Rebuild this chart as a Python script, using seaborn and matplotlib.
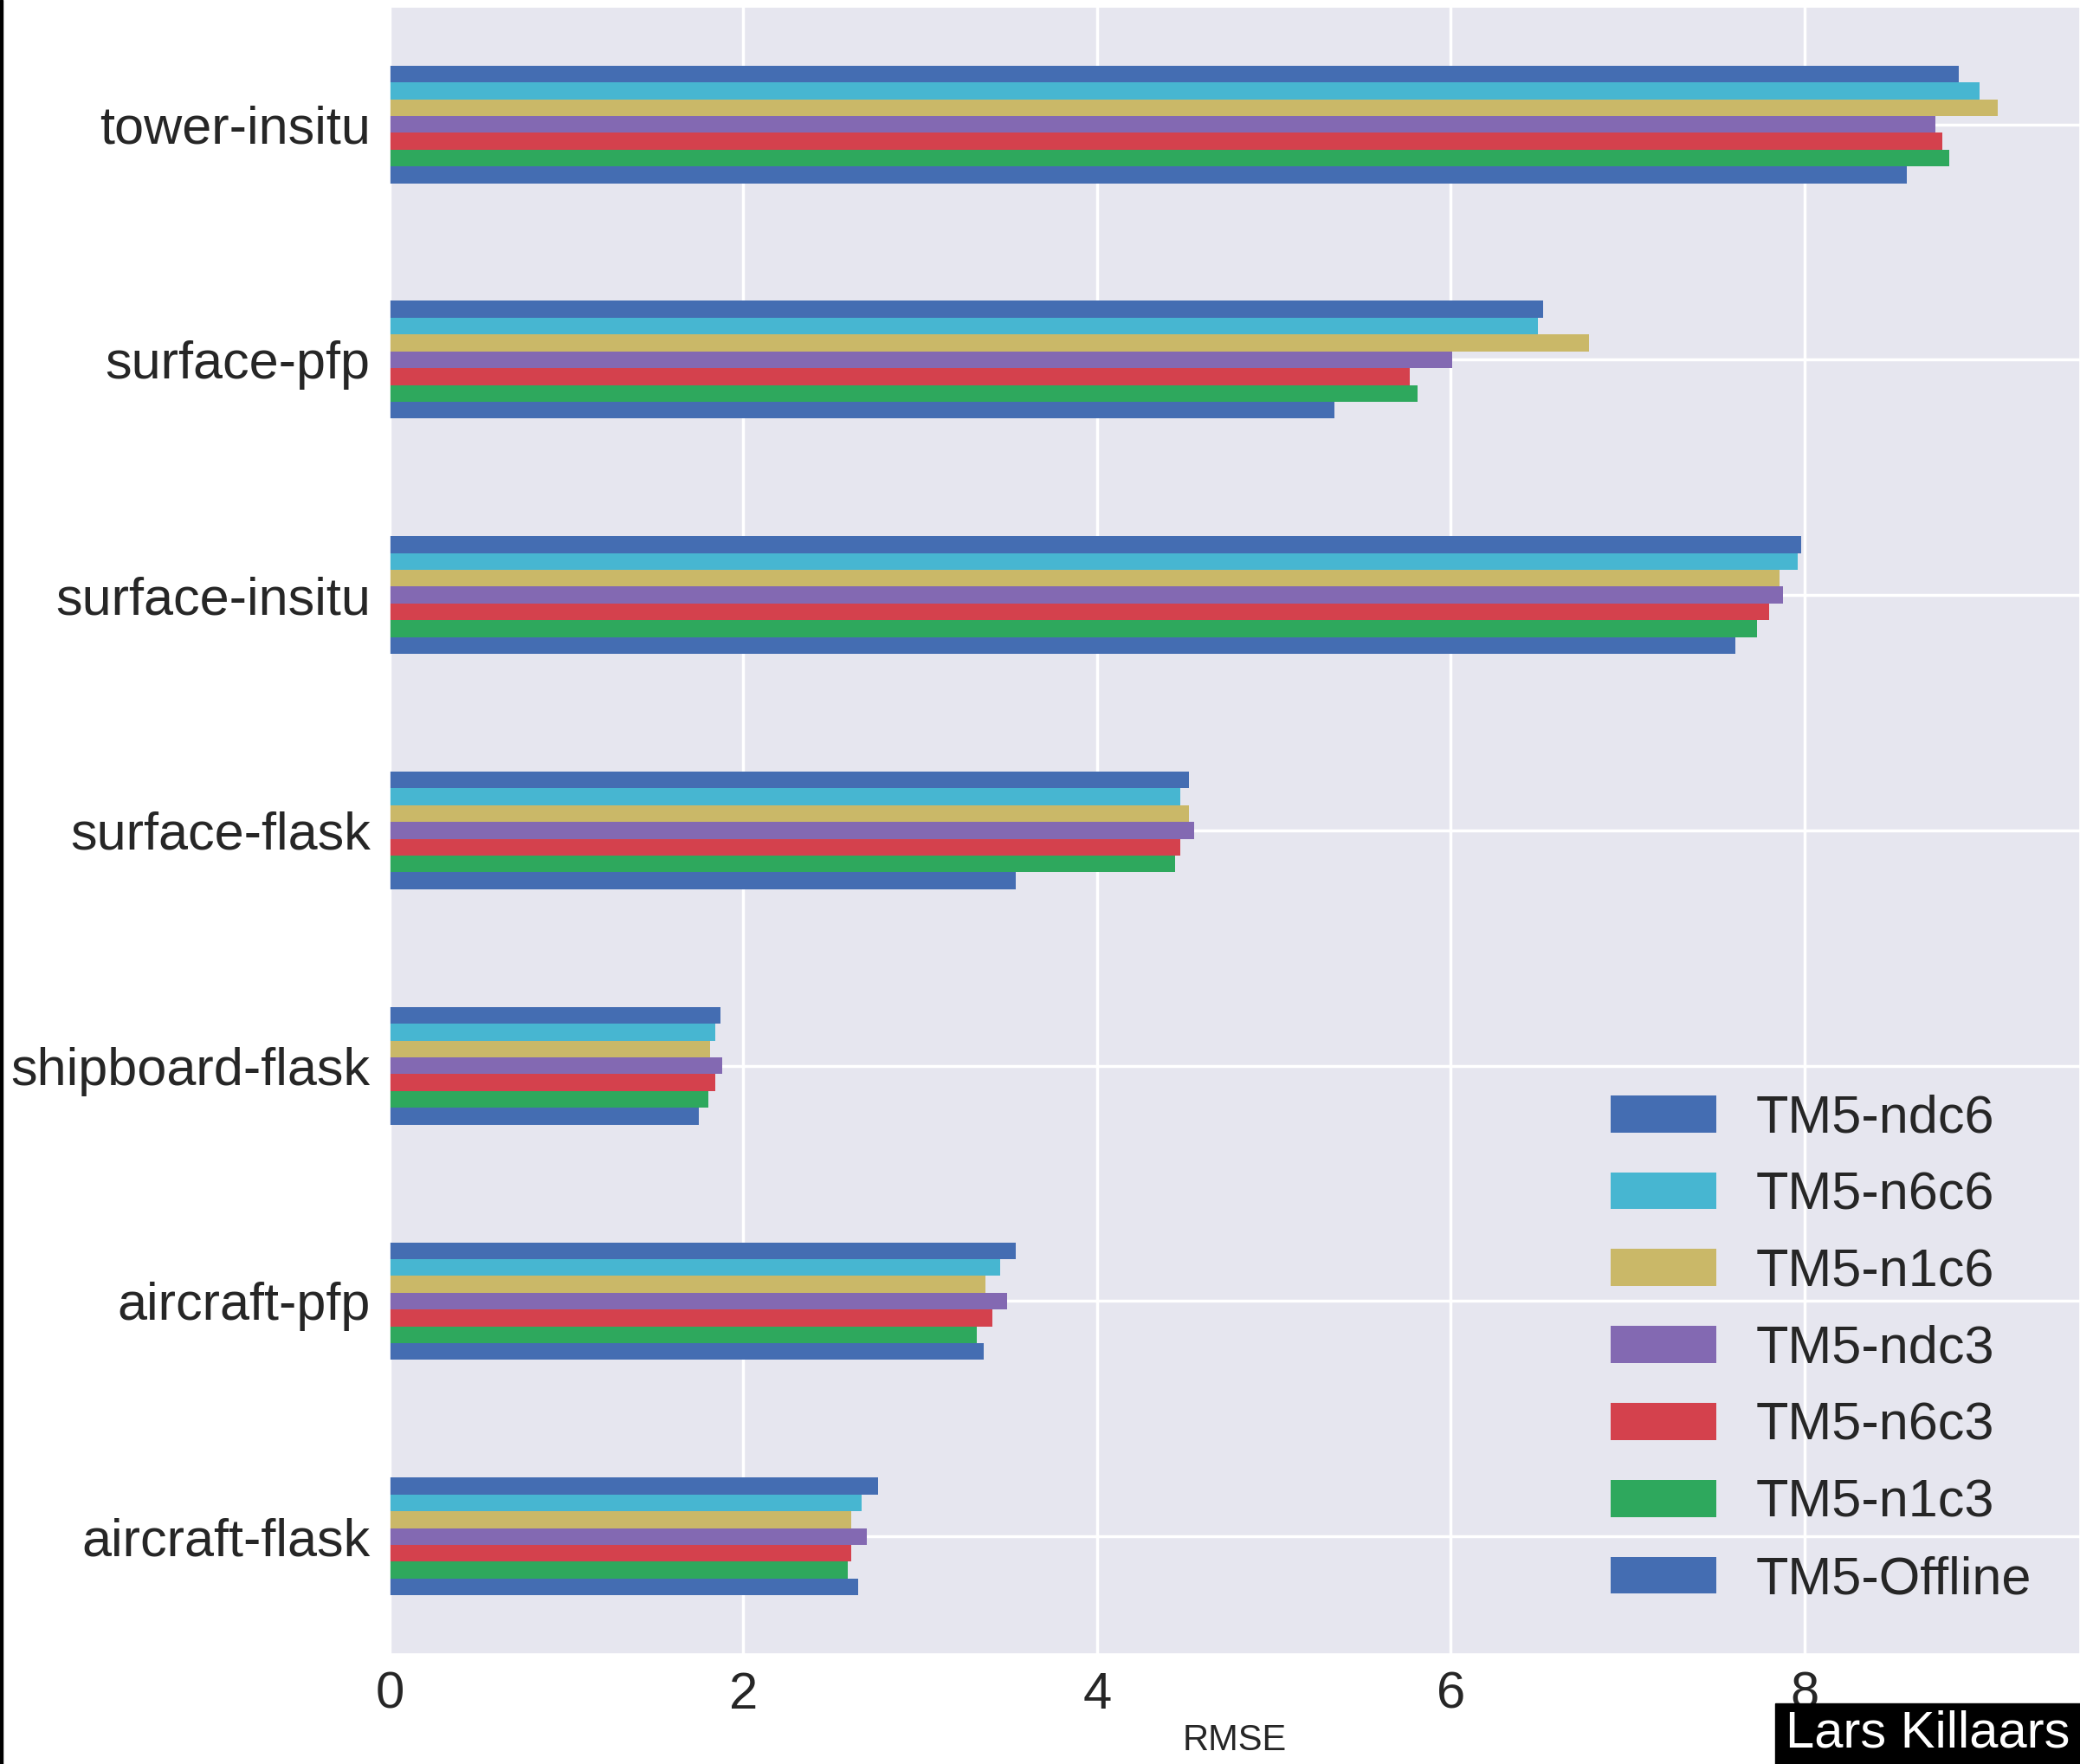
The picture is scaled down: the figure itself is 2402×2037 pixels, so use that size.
import seaborn as sns
import numpy as np
import pandas as pd
import matplotlib.pyplot as plt
from matplotlib.patches import Rectangle

# sites, top to bottom
sites = ['tower-insitu', 'surface-pfp', 'surface-insitu', 'surface-flask',
         'shipboard-flask', 'aircraft-pfp', 'aircraft-flask']
models = ['TM5-ndc6', 'TM5-n6c6', 'TM5-n1c6', 'TM5-ndc3', 'TM5-n6c3', 'TM5-n1c3', 'TM5-Offline']

# RMSE per model, same order as sites
ndc6 = [8.87, 6.52, 7.98, 4.52, 1.87, 3.54, 2.76]
n6c6 = [8.99, 6.49, 7.96, 4.47, 1.84, 3.45, 2.67]
n1c6 = [9.09, 6.78, 7.86, 4.52, 1.81, 3.37, 2.61]
ndc3 = [8.74, 6.01, 7.88, 4.55, 1.88, 3.49, 2.70]
n6c3 = [8.78, 5.77, 7.80, 4.47, 1.84, 3.41, 2.61]
n1c3 = [8.82, 5.81, 7.73, 4.44, 1.80, 3.32, 2.59]
offline = [8.58, 5.34, 7.61, 3.54, 1.75, 3.36, 2.65]

colors = ['#446DB2', '#47B6D1', '#CAB868', '#8369B2', '#D4414D', '#2EA85D', '#446DB2']

values = [ndc6, n6c6, n1c6, ndc3, n6c3, n1c3, offline]
df = pd.DataFrame([(s, m, v[i]) for m, v in zip(models, values) for i, s in enumerate(sites)],
                  columns=['site', 'model', 'RMSE'])

sns.set_theme(style='darkgrid', rc={'axes.facecolor': '#E6E6EF', 'grid.color': 'white',
                                    'grid.linewidth': 2.5})
plt.rcParams['font.family'] = ['Liberation Sans', 'DejaVu Sans']

fig = plt.figure(figsize=(24.02, 20.37), dpi=100)
ax = fig.add_axes([0.1873, 0.0623, 1 - 0.1873, 0.9962 - 0.0623])

sns.barplot(data=df, y='site', x='RMSE', hue='model', order=sites, hue_order=models,
            palette=colors, width=0.5, orient='h', saturation=1, linewidth=0, ax=ax)

ax.grid(True, axis='both')
ax.set_xlim(0, 9.557)
ax.set_xticks([0, 2, 4, 6, 8])
ax.set_ylabel('')
ax.set_xlabel('RMSE', fontsize=30, labelpad=4)
ax.tick_params(axis='y', labelsize=44, pad=16, length=0)
ax.tick_params(axis='x', labelsize=43, pad=14, length=0)

handles, labels = ax.get_legend_handles_labels()
ax.legend(handles, labels, loc='lower right', bbox_to_anchor=(0.984, 0.017),
          borderaxespad=0, frameon=False, fontsize=44, labelspacing=0.52,
          handletextpad=0.75)

# left screenshot border and watermark
fig.patches.append(Rectangle((0, 0), 3 / 2402, 1, transform=fig.transFigure,
                             color='black', zorder=10))
fig.patches.append(Rectangle((2050 / 2402, 0), 352 / 2402, 70 / 2037,
                             transform=fig.transFigure, color='black', zorder=10))
fig.text(2226 / 2402, 8 / 2037, 'Lars Killaars', color='white', fontsize=43,
         ha='center', va='bottom', zorder=11)

fig.savefig('out.png', dpi=100)
